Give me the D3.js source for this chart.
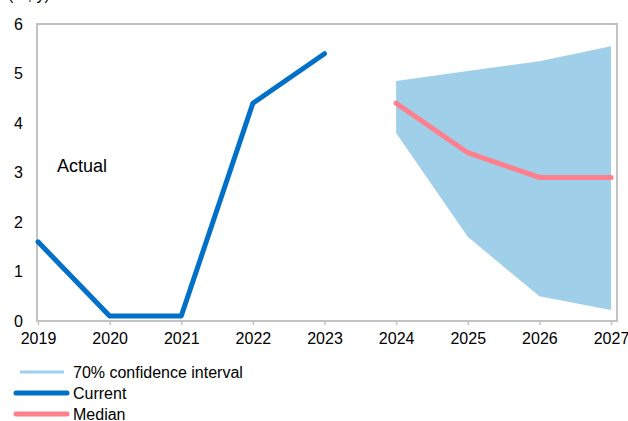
<!DOCTYPE html>
<html>
<head>
<meta charset="utf-8">
<script src="https://cdn.jsdelivr.net/npm/d3@7"></script>
<style>
  html, body { margin: 0; padding: 0; background: #fff; }
  svg { display: block; font-family: "Liberation Sans", Arial, sans-serif; }
</style>
</head>
<body>
<svg id="chart" width="628" height="421"></svg>
<script>
// Actual outturns
const actualYears = [2019, 2020, 2021, 2022, 2023];
const actualValues = [1.6, 0.1, 0.1, 4.4, 5.4];

// Forecast: median path and 70% confidence band
const forecastYears = [2024, 2025, 2026, 2027];
const medianValues = [4.4, 3.4, 2.9, 2.9];
const bandLower = [3.8, 1.7, 0.5, 0.22];
const bandUpper = [4.85, 5.05, 5.25, 5.55];

const xTicks = [2019, 2020, 2021, 2022, 2023, 2024, 2025, 2026, 2027];
const yTicks = [0, 1, 2, 3, 4, 5, 6];

const legendItems = [
  { label: "70% confidence interval", color: "#9fd0ee", width: 3 },
  { label: "Current", color: "#0070c8", width: 5 },
  { label: "Median", color: "#ff7f8c", width: 5 }
];

const svg = d3.select("#chart");
const plotLeft = 38, plotRight = 611, plotTop = 24, plotBottom = 321;
const frameRight = 617;

const x = d3.scaleLinear().domain([2019, 2027]).range([plotLeft, plotRight]);
const y = d3.scaleLinear().domain([0, 6]).range([plotBottom, plotTop]);

// Unit note above the plot
svg.append("text").attr("x", 8).attr("y", 0)
  .attr("font-size", 16).attr("fill", "#000").text("(%, y)");

// Confidence band
const band = forecastYears.map((yr, i) => ({ yr, lo: bandLower[i], hi: bandUpper[i] }));
svg.append("path").datum(band)
  .attr("fill", "#a0cfea")
  .attr("d", d3.area().x(d => x(d.yr)).y0(d => y(d.lo)).y1(d => y(d.hi)));

// Plot frame
const frameColor = "#c3c3c3";
svg.append("path")
  .attr("d", `M${plotLeft - 1},${plotBottom}V${plotTop}H${frameRight}V${plotBottom}`)
  .attr("fill", "none").attr("stroke", frameColor).attr("stroke-width", 2);

// X axis
const xAxis = svg.append("g").attr("transform", `translate(0,${plotBottom})`)
  .call(d3.axisBottom(x).tickValues(xTicks).tickFormat(d3.format("d")).tickSize(4).tickPadding(8));
xAxis.select(".domain").attr("d", `M${plotLeft - 2},0H${frameRight + 1}`)
  .attr("stroke", frameColor).attr("stroke-width", 2);
xAxis.selectAll(".tick line").attr("stroke", frameColor).attr("stroke-width", 1.5);
xAxis.selectAll(".tick text").attr("font-size", 16).attr("fill", "#000")
  .attr("font-family", "Liberation Sans, Arial, sans-serif");

// Y axis labels
const yAxis = svg.append("g").attr("transform", `translate(${plotLeft},0)`)
  .call(d3.axisLeft(y).tickValues(yTicks).tickFormat(d3.format("d")).tickSize(0).tickPadding(15));
yAxis.select(".domain").remove();
yAxis.selectAll(".tick text").attr("font-size", 16).attr("fill", "#000")
  .attr("font-family", "Liberation Sans, Arial, sans-serif");

// Lines
const line = d3.line().x(d => x(d[0])).y(d => y(d[1]));
svg.append("path").datum(actualYears.map((yr, i) => [yr, actualValues[i]]))
  .attr("d", line).attr("fill", "none")
  .attr("stroke", "#0070c8").attr("stroke-width", 5)
  .attr("stroke-linecap", "round").attr("stroke-linejoin", "round");
svg.append("path").datum(forecastYears.map((yr, i) => [yr, medianValues[i]]))
  .attr("d", line).attr("fill", "none")
  .attr("stroke", "#ff7f8c").attr("stroke-width", 5)
  .attr("stroke-linecap", "round").attr("stroke-linejoin", "round");

// Annotation
svg.append("text").attr("x", 57).attr("y", 172)
  .attr("font-size", 18).attr("fill", "#000").text("Actual");

// Legend
const lg = svg.append("g").selectAll("g").data(legendItems).join("g")
  .attr("transform", (d, i) => `translate(0,${372 + i * 21})`);
lg.append("line")
  .attr("x1", (d, i) => i === 0 ? 20 : 16).attr("x2", (d, i) => i === 0 ? 64 : 67)
  .attr("stroke", d => d.color).attr("stroke-width", d => d.width)
  .attr("stroke-linecap", (d, i) => i === 0 ? "butt" : "round");
lg.append("text").attr("x", 73).attr("y", 6)
  .attr("font-size", 16).attr("fill", "#000").text(d => d.label);
</script>
</body>
</html>
